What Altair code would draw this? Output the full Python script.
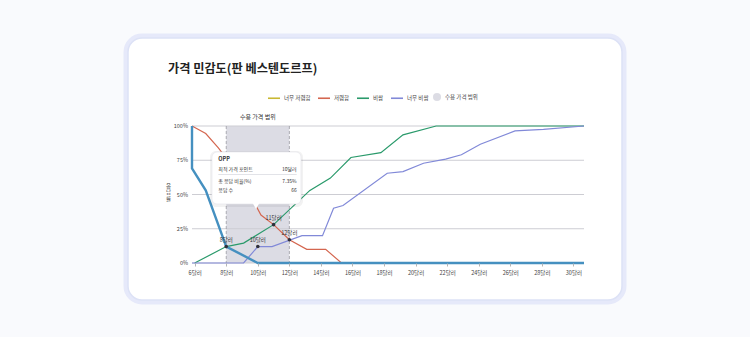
import altair as alt
import pandas as pd

FONT = "Noto Sans CJK KR"

# ---------------- data ----------------
title_text = "가격 민감도(판 베스텐도르프)"
y_title = ["응", "답", "률"]
series_names = ["너무 저렴함", "저렴함", "비쌈", "너무 비쌈"]
legend_colors = ["#c9b832", "#d4664f", "#2a9a6b", "#8189d8"]
too_cheap_color = "#4590c0"
range_name = "수용 가격 범위"

too_cheap_x = [5.83, 5.83, 6.7, 8, 10, 30.67]
too_cheap_y = [100, 69, 53, 12, 0, 0]
cheap_x = [5.83, 6.7, 7.5, 8.3, 9.0, 9.6, 10.2, 11, 12, 13.1, 14.3, 15.3, 30.67]
cheap_y = [100, 94.5, 84, 72, 60, 48, 35, 28, 17, 10, 10, 0, 0]
expensive_x = [6, 8, 9.1, 11, 13.3, 14.6, 15.9, 17.8, 19.2, 21.3, 30.67]
expensive_y = [0, 12, 14.5, 28, 53, 62, 77, 80.5, 93.5, 100, 100]
too_exp_x = [5.83, 9.1, 10, 10.9, 12.8, 14.1, 14.8, 15.4, 18.2, 19.2, 20.5, 21.9, 22.9, 24.1, 26.3, 28.1, 30.67]
too_exp_y = [0, 0, 12, 12, 20, 20, 40, 42, 65.5, 66.7, 72.8, 75.8, 79, 86.7, 96.4, 97.6, 100]

key_labels = ["8달러", "10달러", "11달러", "12달러"]
key_x = [8, 10, 11, 12]
key_y = [12, 12, 28, 17]

range_start = [8]
range_end = [12]

x_ticks = list(range(6, 31, 2))
y_ticks = [0, 25, 50, 75, 100]
y_tick_labels = ["0%", "25%", "50%", "75%", "100%"]
x_domain = [5.83, 30.67]

tip_title = "OPP"
tip_labels = ["최적 가격 포인트", "총 응답 비율(%)", "응답 수"]
tip_values = ["10달러", "7.35%", "66"]

# ---------------- layout constants ----------------
W, H = 392, 137
PAD = {"left": 192, "top": 126, "right": 750 - 192 - W, "bottom": 337 - 126 - H}

xscale = alt.Scale(domain=x_domain, nice=False, zero=False)
yscale = alt.Scale(domain=[0, 100], nice=False)
X_AXIS = alt.Axis(values=x_ticks, labelExpr="datum.value + '달러'", title=None,
                  grid=False, domain=False, ticks=True, tickSize=3, tickColor="#b5b5b5",
                  labelFontSize=5.5, labelColor="#444", labelPadding=4, labelFont=FONT,
                  labelOverlap=False, labelFlush=False, zindex=1)
Y_AXIS = alt.Axis(values=y_ticks, labels=False, title=y_title,
                  grid=False, domain=False, ticks=False,
                  titleAngle=0, titleX=-24, titleY=57, titleAlign="center",
                  titleBaseline="top", titleFontSize=5.5, titleLineHeight=6.5,
                  titleFontWeight="normal", titleColor="#444", titleFont=FONT,
                  zindex=1)


def X(field):
    return alt.X(field, type="quantitative", scale=xscale, axis=X_AXIS)


def Y(field):
    return alt.Y(field, type="quantitative", scale=yscale, axis=Y_AXIS)


one = pd.DataFrame({"k": [0]})

# card
card_glow = alt.Chart(one).mark_rect(cornerRadius=16, fill="#eef0fb", stroke="#e6e9fa",
                                     strokeWidth=5).encode(
    x=alt.value(-66), x2=alt.value(432), y=alt.value(-90), y2=alt.value(176))
card = alt.Chart(one).mark_rect(cornerRadius=14, fill="white", stroke="#dde2f6",
                                strokeWidth=1.5).encode(
    x=alt.value(-64), x2=alt.value(430), y=alt.value(-88), y2=alt.value(174))

# acceptable price range band
band_df = pd.DataFrame({"start": range_start, "end": range_end, "name": [range_name]})
band = alt.Chart(band_df).mark_rect(opacity=0.95).encode(
    x=X("start"), x2="end", y=alt.datum(100), y2=alt.datum(0),
    fill=alt.Fill("name:N", scale=alt.Scale(domain=[range_name], range=["#dadae3"]),
                  legend=alt.Legend(orient="none", legendX=241, legendY=-33, title=None,
                                    symbolType="circle", symbolSize=64, padding=0,
                                    labelFontSize=5.5, labelColor="#444", labelOffset=4,
                                    labelFont=FONT, symbolStrokeWidth=0)))
band_edges = alt.Chart(pd.DataFrame({"v": range_start + range_end})).mark_rule(
    color="#9a9aa2", strokeDash=[3, 2], strokeWidth=0.8).encode(x=X("v"))
band_label = alt.Chart(pd.DataFrame({"v": [(range_start[0] + range_end[0]) / 2],
                                     "t": [range_name]})).mark_text(
    fontSize=6, color="#333", font=FONT, baseline="middle").encode(
    x=X("v"), y=alt.value(-9.5), text="t:N")

# grid rules and y labels
ytick_df = pd.DataFrame({"v": y_ticks, "t": y_tick_labels})
grid = alt.Chart(ytick_df).mark_rule(color="#cdcdd3", strokeWidth=1).encode(y=Y("v"))
y_labels = alt.Chart(ytick_df).mark_text(
    align="right", baseline="middle", fontSize=5.5, color="#444", font=FONT).encode(
    x=alt.value(-4), y=Y("v"), text="t:N")

# series lines
rows = []
for name, xs, ys in [("저렴함", cheap_x, cheap_y), ("비쌈", expensive_x, expensive_y),
                     ("너무 비쌈", too_exp_x, too_exp_y)]:
    for i, (a, b) in enumerate(zip(xs, ys)):
        rows.append({"series": name, "x": a, "y": b, "i": i})
lines_df = pd.DataFrame(rows)
lines = alt.Chart(lines_df).mark_line(strokeWidth=1.2).encode(
    x=X("x"), y=Y("y"), order="i:Q", detail="series:N",
    color=alt.Color("series:N", scale=alt.Scale(domain=series_names, range=legend_colors),
                    legend=alt.Legend(orient="none", legendX=75, legendY=-35, title=None,
                                      direction="horizontal", symbolType="stroke",
                                      symbolSize=144, symbolStrokeWidth=1.6, padding=0,
                                      labelFontSize=5.5, labelColor="#444", labelOffset=3,
                                      columnPadding=3, labelFont=FONT)))
tc_df = pd.DataFrame({"x": too_cheap_x, "y": too_cheap_y, "i": list(range(len(too_cheap_x)))})
too_cheap = alt.Chart(tc_df).mark_line(color=too_cheap_color, strokeWidth=2.4).encode(
    x=X("x"), y=Y("y"), order="i:Q")

# key points
key_df = pd.DataFrame({"x": key_x, "y": key_y, "t": key_labels})
dots = alt.Chart(key_df).mark_circle(size=13, color="#2f2f3a", opacity=1).encode(x=X("x"), y=Y("y"))
dot_labels = alt.Chart(key_df).mark_text(dy=-6.5, fontSize=5.5, color="#333", font=FONT).encode(
    x=X("x"), y=Y("y"), text="t:N")

# tooltip box (screen overlay)
tip_shadow = alt.Chart(one).mark_rect(cornerRadius=6, fill="#000", opacity=0.05).encode(
    x=alt.value(18), x2=alt.value(111), y=alt.value(25), y2=alt.value(81))
tip_box = alt.Chart(one).mark_rect(cornerRadius=5, fill="white", stroke="#e2e3ea",
                                   strokeWidth=0.6).encode(
    x=alt.value(20), x2=alt.value(109), y=alt.value(26), y2=alt.value(78))
tip_arrow = alt.Chart(one).mark_point(shape="triangle-down", filled=True, fill="white",
                                      size=45, opacity=1, strokeWidth=0).encode(
    x=alt.value(64), y=alt.value(80))
tip_head = alt.Chart(pd.DataFrame({"t": [tip_title]})).mark_text(
    align="left", baseline="middle", fontSize=5.5, fontWeight="bold", color="#333", font=FONT).encode(
    x=alt.value(26.3), y=alt.value(33.3), text="t:N")
row_y = [43, 55, 64.3]
tip_left = alt.layer(*[
    alt.Chart(pd.DataFrame({"t": [lab]})).mark_text(
        align="left", baseline="middle", fontSize=5, color="#333", font=FONT).encode(
        x=alt.value(26.3), y=alt.value(ry), text="t:N")
    for lab, ry in zip(tip_labels, row_y)])
tip_right = alt.layer(*[
    alt.Chart(pd.DataFrame({"t": [val]})).mark_text(
        align="right", baseline="middle", fontSize=5, color="#333", font=FONT).encode(
        x=alt.value(104.7), y=alt.value(ry), text="t:N")
    for val, ry in zip(tip_values, row_y)])
tip_sep = alt.Chart(one).mark_rule(color="#cfd0d8", strokeWidth=0.6).encode(
    x=alt.value(26.3), x2=alt.value(104.7), y=alt.value(48.5))

# title
title = alt.Chart(pd.DataFrame({"t": [title_text]})).mark_text(
    align="left", baseline="middle", fontSize=12.2, fontWeight="bold", color="#222", font=FONT).encode(
    x=alt.value(-24), y=alt.value(-57), text="t:N")

chart = alt.layer(
    card_glow, card, band, grid, y_labels, band_edges, band_label, lines, too_cheap, dots,
    dot_labels, tip_shadow, tip_box, tip_arrow, tip_head, tip_left, tip_right, tip_sep, title
).properties(
    width=W, height=H, padding=PAD, background="#f9fafd",
    autosize=alt.AutoSizeParams(type="none")
).configure_view(strokeWidth=0, fill=None).configure(font=FONT)

chart.save("out.html", embed_options={"renderer": "svg", "actions": False})
